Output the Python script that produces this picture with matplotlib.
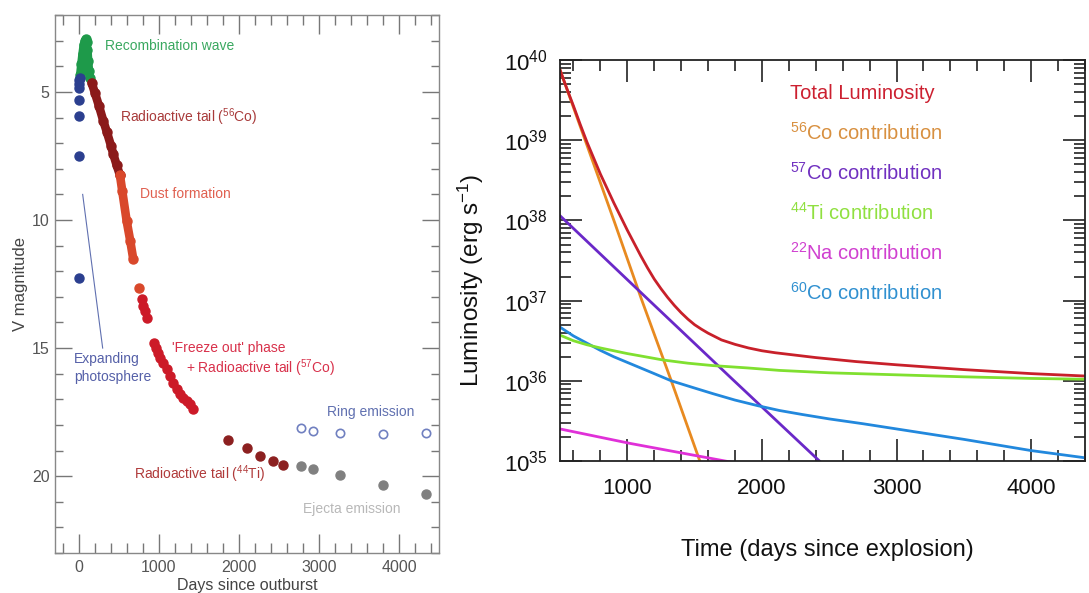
import numpy as np
import matplotlib.pyplot as plt
from matplotlib.ticker import MultipleLocator, LogLocator, NullFormatter

plt.rcParams['font.family'] = ['Liberation Sans', 'DejaVu Sans']
plt.rcParams['mathtext.fontset'] = 'custom'
plt.rcParams['mathtext.rm'] = 'Liberation Sans'
plt.rcParams['mathtext.it'] = 'Liberation Sans:italic'
plt.rcParams['mathtext.bf'] = 'Liberation Sans:bold'

# ---- left panel: V light curve (days, V magnitude) ----
photo_t = [0, 1, 2, 3, 4, 5, 6, 7]
photo_v = [12.27, 7.5, 5.94, 5.31, 4.85, 4.7, 4.55, 4.45]

recomb_t = [15, 30, 45, 60, 75, 85, 95, 105, 115, 125, 135]
recomb_v = [4.35, 3.9, 3.5, 3.15, 3.0, 2.95, 3.05, 3.35, 3.8, 4.2, 4.45]

co56_t = [158, 200, 250, 304, 350, 400, 429, 470, 512]
co56_v = [4.64, 5.05, 5.55, 6.13, 6.58, 7.1, 7.43, 7.85, 8.25]

dust_t = [512, 540, 596, 640, 679, 754]
dust_v = [8.25, 8.85, 10.04, 10.8, 11.54, 12.64]

dust_late_t = [784, 804, 825, 854]
dust_late_v = [13.1, 13.36, 13.55, 13.82]

freeze_t = [937, 960, 985, 1012, 1050, 1096, 1140, 1179, 1220, 1262, 1300, 1346, 1385, 1421]
freeze_v = [14.8, 14.98, 15.18, 15.38, 15.6, 15.83, 16.1, 16.35, 16.6, 16.81, 16.95, 17.07, 17.2, 17.37]

ti44_t = [1867, 2096, 2262, 2429, 2546]
ti44_v = [18.6, 18.92, 19.22, 19.41, 19.55]

ejecta_t = [2771, 2929, 3262, 3796, 4333]
ejecta_v = [19.61, 19.74, 19.97, 20.33, 20.68]

ring_t = [2771, 2929, 3262, 3796, 4333]
ring_v = [18.11, 18.24, 18.3, 18.34, 18.33]

# ---- right panel: luminosity model (log10 erg/s) ----
tot_t = [500, 550, 600, 650, 700, 750, 800, 850, 900, 950, 1000, 1050, 1100, 1150, 1200,
         1250, 1300, 1350, 1400, 1450, 1500, 1550, 1600, 1700, 1800, 1900, 2000, 2100,
         2250, 2400, 2700, 3000, 3500, 4000, 4400]
tot_l = [39.88, 39.65, 39.43, 39.20, 38.98, 38.78, 38.58, 38.40, 38.22, 38.05, 37.88, 37.72,
         37.56, 37.41, 37.27, 37.15, 37.04, 36.94, 36.85, 36.77, 36.70, 36.645, 36.595, 36.51,
         36.455, 36.41, 36.375, 36.35, 36.32, 36.29, 36.24, 36.20, 36.14, 36.09, 36.06]

co56L_t = [500, 907, 1105, 1327, 1560]
co56L_l = [39.88, 37.97, 37.02, 36.0, 34.9]

co57L_t = [500, 1152, 1781, 2440]
co57L_l = [38.06, 37.02, 36.02, 34.98]

ti44L_t = [500, 600, 700, 800, 900, 1000, 1100, 1265, 1450, 1636, 1900, 2130, 2500, 3000,
           3500, 4000, 4400]
ti44L_l = [36.57, 36.50, 36.45, 36.41, 36.375, 36.34, 36.31, 36.26, 36.22, 36.19, 36.16,
           36.13, 36.10, 36.075, 36.05, 36.03, 36.02]

na22L_t = [500, 1019, 1790]
na22L_l = [35.40, 35.22, 34.98]

co60L_t = [500, 600, 700, 800, 900, 1000, 1100, 1200, 1327, 1500, 1636, 1800, 1969, 2130,
           2300, 2500, 2750, 3000, 3250, 3500, 3750, 4000, 4200, 4400]
co60L_l = [36.67, 36.56, 36.47, 36.38, 36.30, 36.23, 36.16, 36.09, 36.0, 35.91, 35.84, 35.76,
           35.69, 35.63, 35.58, 35.525, 35.465, 35.40, 35.335, 35.27, 35.20, 35.13, 35.085, 35.04]

fig = plt.figure(figsize=(10.89, 5.93), dpi=100)

# ================= left panel =================
ax1 = fig.add_axes([0.0505, 0.0675, 0.3526, 0.907])
ms = 6.5
band = 6.2
ax1.plot(recomb_t, recomb_v, color='#1e9a4a', lw=band, solid_capstyle='round',
         solid_joinstyle='round', zorder=2)
ax1.plot(recomb_t, recomb_v, 'o', color='#1e9a4a', ms=ms, zorder=2)
ax1.plot(photo_t, photo_v, 'o', color='#2b3f8f', ms=ms, zorder=3)
ax1.plot(co56_t, co56_v, color='#8b1a1a', lw=band, solid_capstyle='round', zorder=2)
ax1.plot(co56_t, co56_v, 'o', color='#8b1a1a', ms=ms, zorder=2)
ax1.plot(dust_t[:-1], dust_v[:-1], color='#d9482b', lw=band, solid_capstyle='round', zorder=2)
ax1.plot(dust_t, dust_v, 'o', color='#d9482b', ms=ms, zorder=2)
ax1.plot(dust_late_t, dust_late_v, 'o', color='#cc1a28', ms=ms, zorder=2)
ax1.plot(freeze_t, freeze_v, 'o', color='#cc1a28', ms=ms, zorder=2)
ax1.plot(ti44_t, ti44_v, 'o', color='#8c2020', ms=ms, zorder=2)
ax1.plot(ejecta_t, ejecta_v, 'o', color='#808080', ms=ms, zorder=2)
ax1.plot(ring_t, ring_v, 'o', mfc='none', mec='#7080c0', mew=1.2, ms=6, zorder=2)

# pointer line for expanding photosphere
ax1.plot([46, 296], [9.0, 15.0], color='#6070b0', lw=0.8)

fs = 10
ax1.text(325, 3.2, 'Recombination wave', color='#3aa860', fontsize=fs, va='center')
ax1.text(512, 6.0, 'Radioactive tail ($^{56}$Co)', color='#a83a3a', fontsize=fs, va='center')
ax1.text(762, 8.98, 'Dust formation', color='#e06050', fontsize=fs, va='center')
ax1.text(1162, 15.0, "'Freeze out' phase", color='#d8304a', fontsize=fs, va='center')
ax1.text(1337, 15.78, '+ Radioactive tail ($^{57}$Co)', color='#d8304a', fontsize=fs, va='center')
ax1.text(-62, 15.43, 'Expanding', color='#5560a8', fontsize=fs, va='center')
ax1.text(-62, 16.13, 'photosphere', color='#5560a8', fontsize=fs, va='center')
ax1.text(3100, 17.5, 'Ring emission', color='#6070b0', fontsize=fs, va='center')
ax1.text(687, 19.92, 'Radioactive tail ($^{44}$Ti)', color='#b03a3a', fontsize=fs, va='center')
ax1.text(2800, 21.3, 'Ejecta emission', color='#b8b8b8', fontsize=fs, va='center')

ax1.set_xlim(-300, 4500)
ax1.set_ylim(23, 2)
ax1.xaxis.set_major_locator(MultipleLocator(1000))
ax1.xaxis.set_minor_locator(MultipleLocator(200))
ax1.yaxis.set_major_locator(MultipleLocator(5))
ax1.yaxis.set_minor_locator(MultipleLocator(1))
ax1.tick_params(which='both', direction='in', top=True, right=True, colors='#777777',
                labelcolor='#555555', labelsize=11.5)
ax1.tick_params(axis='x', which='major', length=14, width=1, pad=5)
ax1.tick_params(axis='x', which='minor', length=7, width=1)
ax1.tick_params(axis='y', which='major', length=12, width=1, pad=4)
ax1.tick_params(axis='y', which='minor', length=6, width=1)
for sp in ax1.spines.values():
    sp.set_color('#888888')
    sp.set_linewidth(1.0)
ax1.set_xlabel('Days since outburst', fontsize=11.5, color='#444444')
ax1.set_ylabel('V magnitude', fontsize=12, color='#444444')
ax1.xaxis.set_label_coords(0.5, -0.046)
ax1.yaxis.set_label_coords(-0.07, 0.5)

# ================= right panel =================
ax2 = fig.add_axes([0.5142, 0.2226, 0.4821, 0.676])
lw = 2.0
ax2.plot(co56L_t, 10 ** np.array(co56L_l), color='#e88a20', lw=lw)
ax2.plot(co57L_t, 10 ** np.array(co57L_l), color='#6a28c8', lw=lw)
ax2.plot(na22L_t, 10 ** np.array(na22L_l), color='#e030d8', lw=lw)
ax2.plot(co60L_t, 10 ** np.array(co60L_l), color='#2288dd', lw=lw)
ax2.plot(ti44L_t, 10 ** np.array(ti44L_l), color='#80e030', lw=lw)
ax2.plot(tot_t, 10 ** np.array(tot_l), color='#c8202a', lw=lw)

labels = ['Total Luminosity', '$^{56}$Co contribution', '$^{57}$Co contribution',
          '$^{44}$Ti contribution', '$^{22}$Na contribution', '$^{60}$Co contribution']
label_colors = ['#cc2030', '#d89040', '#7030c0', '#90e040', '#d040d0', '#3090d0']
for i, (lab, c) in enumerate(zip(labels, label_colors)):
    ax2.text(0.438, 0.918 - 0.0998 * i, lab, color=c, fontsize=14.5, va='center',
             transform=ax2.transAxes)

ax2.set_yscale('log')
ax2.set_xlim(500, 4400)
ax2.set_ylim(1e35, 1e40)
ax2.xaxis.set_major_locator(MultipleLocator(1000))
ax2.xaxis.set_minor_locator(MultipleLocator(200))
ax2.yaxis.set_major_locator(LogLocator(base=10, numticks=10))
ax2.yaxis.set_minor_locator(LogLocator(base=10, subs=np.arange(2, 10), numticks=20))
ax2.yaxis.set_minor_formatter(NullFormatter())
ax2.tick_params(which='both', direction='in', top=True, right=True, colors='#222222',
                labelcolor='#111111', labelsize=16)
ax2.tick_params(which='major', length=16, width=1.2)
ax2.tick_params(which='minor', length=8, width=1.2)
ax2.tick_params(axis='x', which='major', pad=12)
ax2.tick_params(axis='y', which='major', pad=9)
for sp in ax2.spines.values():
    sp.set_color('#222222')
    sp.set_linewidth(1.3)
ax2.set_xlabel('Time (days since explosion)', fontsize=17, color='#111111')
ax2.set_ylabel('Luminosity (erg s$^{-1}$)', fontsize=17.5, color='#111111')
ax2.xaxis.set_label_coords(0.51, -0.195)
ax2.yaxis.set_label_coords(-0.14, 0.45)

fig.savefig('out.png', dpi=100)
